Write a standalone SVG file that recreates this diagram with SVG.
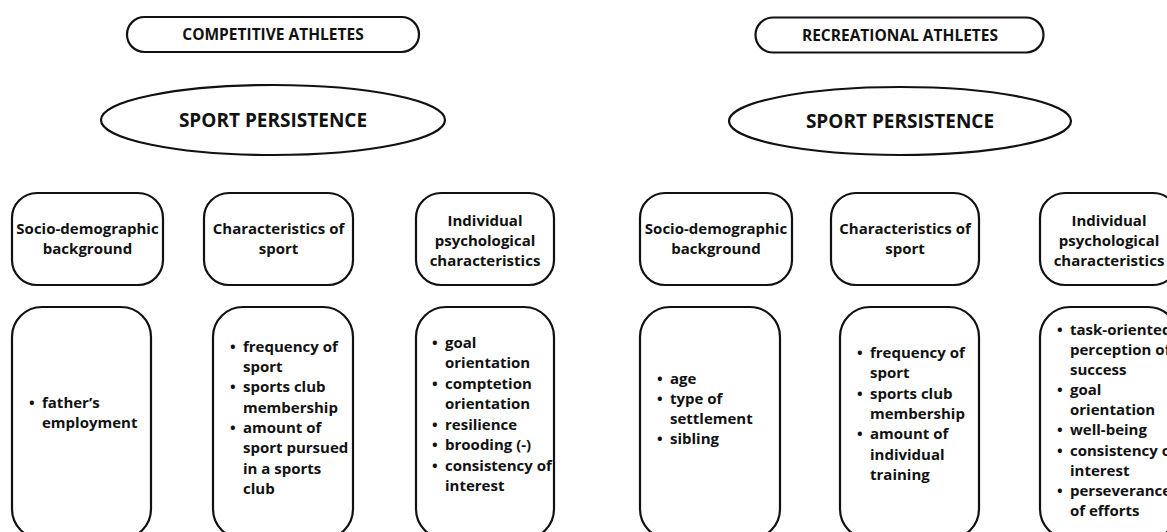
<svg xmlns="http://www.w3.org/2000/svg" width="1167" height="532" viewBox="0 0 1167 532">
<style>
  .shape { fill: #ffffff; stroke: #111111; stroke-width: 2.2; }
  .t { font-family: "Open Sans", "Liberation Sans", sans-serif; font-weight: 700; fill: #111111; }
  .title { font-size: 15.5px; text-anchor: middle; }
  .big { font-size: 19px; text-anchor: middle; }
  .head { font-size: 15px; text-anchor: middle; }
  .item { font-size: 15px; }
</style>
<rect width="1167" height="532" fill="#ffffff"/>

<!-- Left side: Competitive athletes -->
<g id="competitive-title">
  <rect class="shape" x="127" y="17" width="292" height="35" rx="17.5"/>
  <text class="t title" x="273" y="40">COMPETITIVE ATHLETES</text>
</g>
<g id="competitive-persistence">
  <ellipse class="shape" cx="273" cy="120" rx="172" ry="35"/>
  <text class="t big" x="273" y="127">SPORT PERSISTENCE</text>
</g>
<g id="c-socio-head">
  <rect class="shape" x="12" y="193" width="151" height="92" rx="25"/>
  <text class="t head" x="87.5" y="234">Socio-demographic</text>
  <text class="t head" x="87.5" y="254">background</text>
</g>
<g id="c-sport-head">
  <rect class="shape" x="204" y="193" width="149" height="92" rx="25"/>
  <text class="t head" x="278.5" y="234">Characteristics of</text>
  <text class="t head" x="278.5" y="254">sport</text>
</g>
<g id="c-psych-head">
  <rect class="shape" x="416" y="193" width="138" height="92" rx="25"/>
  <text class="t head" x="485" y="226">Individual</text>
  <text class="t head" x="485" y="246">psychological</text>
  <text class="t head" x="485" y="266">characteristics</text>
</g>
<g id="c-socio-items">
  <rect class="shape" x="12" y="307" width="139" height="232" rx="30"/>
  <text class="t item" y="408"><tspan x="29">•</tspan><tspan x="42">father’s</tspan></text>
  <text class="t item" y="428"><tspan x="42">employment</tspan></text>
</g>
<g id="c-sport-items">
  <rect class="shape" x="213" y="307" width="140" height="232" rx="30"/>
  <text class="t item" y="352"><tspan x="230">•</tspan><tspan x="243">frequency of</tspan></text>
  <text class="t item" y="372"><tspan x="243">sport</tspan></text>
  <text class="t item" y="392"><tspan x="230">•</tspan><tspan x="243">sports club</tspan></text>
  <text class="t item" y="413"><tspan x="243">membership</tspan></text>
  <text class="t item" y="433"><tspan x="230">•</tspan><tspan x="243">amount of</tspan></text>
  <text class="t item" y="453"><tspan x="243">sport pursued</tspan></text>
  <text class="t item" y="474"><tspan x="243">in a sports</tspan></text>
  <text class="t item" y="494"><tspan x="243">club</tspan></text>
</g>
<g id="c-psych-items">
  <rect class="shape" x="416" y="307" width="138" height="232" rx="30"/>
  <text class="t item" y="348"><tspan x="432">•</tspan><tspan x="445">goal</tspan></text>
  <text class="t item" y="368"><tspan x="445">orientation</tspan></text>
  <text class="t item" y="389"><tspan x="432">•</tspan><tspan x="445">comptetion</tspan></text>
  <text class="t item" y="409"><tspan x="445">orientation</tspan></text>
  <text class="t item" y="430"><tspan x="432">•</tspan><tspan x="445">resilience</tspan></text>
  <text class="t item" y="450"><tspan x="432">•</tspan><tspan x="445">brooding (-)</tspan></text>
  <text class="t item" y="471"><tspan x="432">•</tspan><tspan x="445">consistency of</tspan></text>
  <text class="t item" y="491"><tspan x="445">interest</tspan></text>
</g>

<!-- Right side: Recreational athletes -->
<g id="recreational-title">
  <rect class="shape" x="755.5" y="17.5" width="288" height="35" rx="17.5"/>
  <text class="t title" x="900" y="41">RECREATIONAL ATHLETES</text>
</g>
<g id="recreational-persistence">
  <ellipse class="shape" cx="900" cy="121" rx="171" ry="34"/>
  <text class="t big" x="900" y="128">SPORT PERSISTENCE</text>
</g>
<g id="r-socio-head">
  <rect class="shape" x="640" y="193" width="152" height="92" rx="25"/>
  <text class="t head" x="716" y="234">Socio-demographic</text>
  <text class="t head" x="716" y="254">background</text>
</g>
<g id="r-sport-head">
  <rect class="shape" x="831" y="193" width="148" height="92" rx="25"/>
  <text class="t head" x="905" y="234">Characteristics of</text>
  <text class="t head" x="905" y="254">sport</text>
</g>
<g id="r-psych-head">
  <rect class="shape" x="1040" y="193" width="138" height="92" rx="25"/>
  <text class="t head" x="1109" y="226">Individual</text>
  <text class="t head" x="1109" y="246">psychological</text>
  <text class="t head" x="1109" y="266">characteristics</text>
</g>
<g id="r-socio-items">
  <rect class="shape" x="640" y="307" width="140" height="232" rx="30"/>
  <text class="t item" y="384"><tspan x="657">•</tspan><tspan x="670">age</tspan></text>
  <text class="t item" y="404"><tspan x="657">•</tspan><tspan x="670">type of</tspan></text>
  <text class="t item" y="424"><tspan x="670">settlement</tspan></text>
  <text class="t item" y="444"><tspan x="657">•</tspan><tspan x="670">sibling</tspan></text>
</g>
<g id="r-sport-items">
  <rect class="shape" x="840" y="307" width="139" height="232" rx="30"/>
  <text class="t item" y="358"><tspan x="857">•</tspan><tspan x="870">frequency of</tspan></text>
  <text class="t item" y="378"><tspan x="870">sport</tspan></text>
  <text class="t item" y="399"><tspan x="857">•</tspan><tspan x="870">sports club</tspan></text>
  <text class="t item" y="419"><tspan x="870">membership</tspan></text>
  <text class="t item" y="439"><tspan x="857">•</tspan><tspan x="870">amount of</tspan></text>
  <text class="t item" y="460"><tspan x="870">individual</tspan></text>
  <text class="t item" y="480"><tspan x="870">training</tspan></text>
</g>
<g id="r-psych-items">
  <rect class="shape" x="1040" y="307" width="138" height="232" rx="30"/>
  <text class="t item" y="335"><tspan x="1057">•</tspan><tspan x="1070">task-oriented</tspan></text>
  <text class="t item" y="355"><tspan x="1070">perception of</tspan></text>
  <text class="t item" y="375"><tspan x="1070">success</tspan></text>
  <text class="t item" y="395"><tspan x="1057">•</tspan><tspan x="1070">goal</tspan></text>
  <text class="t item" y="415"><tspan x="1070">orientation</tspan></text>
  <text class="t item" y="435"><tspan x="1057">•</tspan><tspan x="1070">well-being</tspan></text>
  <text class="t item" y="456"><tspan x="1057">•</tspan><tspan x="1070">consistency of</tspan></text>
  <text class="t item" y="476"><tspan x="1070">interest</tspan></text>
  <text class="t item" y="496"><tspan x="1057">•</tspan><tspan x="1070">perseverance</tspan></text>
  <text class="t item" y="516"><tspan x="1070">of efforts</tspan></text>
</g>

<g id="connectors"></g>
</svg>
